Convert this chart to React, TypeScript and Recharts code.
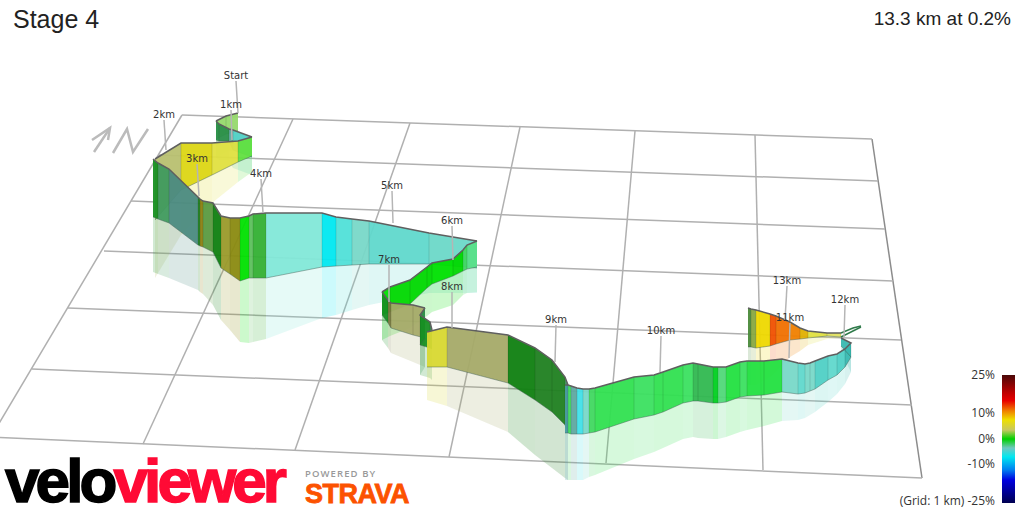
import React from 'react';
import { ComposedChart, Area, Line, XAxis, YAxis, ReferenceDot } from 'recharts';

const tones: Record<string, string> = {
  lime: '#96d96c', fern: '#2a8f4a', slate: '#5fa8a0', teal: '#4fd0c5', spring: '#62e040',
  lemon: '#e0e040', citron: '#dcd614', sage: '#b8c070', forest: '#178f22', moss: '#3f9a5e',
  petrol: '#4a8a80', pine: '#1f7f20', bronze: '#8a7f10', leaf: '#5a9a40', deep: '#0f7f10',
  olive: '#9a9a2a', khaki: '#8a8a10', neon: '#00e000', mint: '#5cc05c', grass: '#33b033',
  aqua: '#82e8d8', cyan: '#00e8f0', turq: '#50e0d8', seafoam: '#78d8c8', lagoon: '#60d8cc',
  pale: '#6cd8c8', jade: '#58e088', emerald: '#40d860', vivid: '#00d800', taupe: '#7a7a40',
  drab: '#a5aa68', mustard: '#d8d830', steel: '#4a9aa0', sky: '#40e0e8', apple: '#30e050',
  clover: '#3be060', shade: '#30b850', kelly: '#00d020', pastel: '#50d878', bright: '#22e040',
  sun: '#eed800', ember: '#f05000', flame: '#f07000', amber: '#f08000', gold: '#e0b000',
  straw: '#e0e060', blank: '#ffffff', reef: '#38b8b0', marsh: '#88a840', bottle: '#4a8a3a',
};

const loopX = [238, 226, 216];
const loopTop = [113, 116, 121];
const loopBase = [131, 134, 139];
const loopFloor = [149, 152, 158];
const loopTone = ['lime', 'lime'];

const turnX = [216, 219, 229, 233, 252];
const turnTop = [121, 124, 129, 130, 137];
const turnBase = [140, 141, 141, 150, 157];
const turnFloor = [158, 160, 160, 168, 175];
const turnTone = ['fern', 'fern', 'slate', 'teal'];

const ridgeX = [252, 238, 212, 181, 155];
const ridgeTop = [137, 141, 143, 143, 159];
const ridgeBase = [156, 162, 175, 190, 220];
const ridgeFloor = [172, 182, 203, 235, 278];
const ridgeTone = ['spring', 'lemon', 'citron', 'sage'];

const longX = [153, 158, 169, 198, 200, 203, 213, 221, 230, 240, 249, 253, 266, 322, 336, 352, 369, 429, 477];
const longTop = [159, 163, 169, 197, 199, 201, 203, 216, 218, 218, 216, 214, 213, 213, 217, 219, 221, 233, 241];
const longBase = [217, 219, 223, 245, 246, 247, 252, 268, 274, 281, 278, 278, 278, 267, 266, 265, 264, 264, 268];
const longFloor = [272, 274, 278, 290, 292, 294, 305, 320, 330, 342, 343, 342, 339, 318, 315, 310, 305, 293, 293];
const longTone = ['forest', 'moss', 'petrol', 'pine', 'bronze', 'leaf', 'deep', 'olive', 'khaki', 'neon', 'mint', 'grass', 'aqua', 'cyan', 'turq', 'seafoam', 'lagoon', 'pale'];

const bendX = [477, 467, 463, 453, 432, 427, 410, 390, 382];
const bendTop = [241, 245, 250, 259, 263, 267, 280, 287, 292];
const bendBase = [267, 269, 271, 276, 284, 288, 304, 312, 315];
const bendFloor = [292, 293, 295, 305, 312, 316, 328, 336, 340];
const bendTone = ['jade', 'emerald', 'vivid', 'neon', 'vivid', 'vivid', 'vivid', 'neon'];

const shelfX = [382, 388, 391, 413, 425];
const shelfTop = [292, 300, 303, 305, 308];
const shelfBase = [315, 323, 328, 335, 338];
const shelfFloor = [340, 348, 353, 362, 367];
const shelfTone = ['forest', 'taupe', 'drab', 'drab'];

const kinkX = [425, 420, 430, 432];
const kinkTop = [308, 315, 322, 330];
const kinkBase = [338, 345, 348, 349];
const kinkFloor = [367, 375, 378, 380];
const kinkTone = ['fern', 'forest', 'fern'];

const dropX = [427, 447, 508, 535, 552, 565, 568];
const dropTop = [332, 327, 335, 348, 360, 377, 385];
const dropBase = [367, 367, 383, 400, 412, 425, 433];
const dropFloor = [400, 406, 432, 455, 468, 478, 480];
const dropTone = ['mustard', 'drab', 'deep', 'pine', 'pine', 'moss'];

const tipX = [748, 751, 756, 770, 776, 790, 800, 808, 827, 841, 853, 861];
const tipTop = [308, 309, 310, 314, 316, 322, 328, 331, 333, 333, 328, 326];
const tipBase = [347, 347, 348, 346, 344, 340, 339, 338, 336, 337, 331, 327];
const tipFloor = [385, 385, 385, 377, 372, 357, 351, 345, 339, 338, 332, 328];
const tipTone = ['bottle', 'marsh', 'sun', 'ember', 'flame', 'amber', 'gold', 'lemon', 'straw', 'blank', 'blank'];

const runX = [565, 568, 571, 577, 583, 589, 595, 634, 654, 663, 683, 693, 698, 713, 718, 726, 740, 747, 764, 782, 798, 805, 810, 815, 828, 837, 845, 851, 841];
const runTop = [385, 385, 386, 388, 389, 389, 388, 377, 375, 372, 365, 363, 364, 367, 367, 367, 362, 361, 361, 359, 363, 364, 363, 361, 356, 354, 349, 343, 338];
const runBase = [433, 433, 434, 434, 434, 433, 432, 419, 415, 412, 403, 401, 401, 403, 403, 402, 397, 396, 395, 392, 394, 393, 391, 389, 380, 375, 367, 357, 346];
const runFloor = [480, 480, 480, 480, 480, 477, 475, 459, 452, 448, 439, 437, 438, 439, 439, 437, 432, 430, 426, 421, 420, 418, 415, 412, 402, 394, 384, 372, 352];
const runTone = ['steel', 'emerald', 'slate', 'sky', 'seafoam', 'emerald', 'apple', 'clover', 'apple', 'apple', 'clover', 'shade', 'shade', 'kelly', 'pastel', 'bright', 'clover', 'bright', 'bright', 'seafoam', 'lagoon', 'seafoam', 'seafoam', 'teal', 'lagoon', 'teal', 'reef', 'reef'];

const stretches = [
  [loopX, loopTop, loopBase, loopFloor, loopTone],
  [turnX, turnTop, turnBase, turnFloor, turnTone],
  [ridgeX, ridgeTop, ridgeBase, ridgeFloor, ridgeTone],
  [longX, longTop, longBase, longFloor, longTone],
  [bendX, bendTop, bendBase, bendFloor, bendTone],
  [shelfX, shelfTop, shelfBase, shelfFloor, shelfTone],
  [kinkX, kinkTop, kinkBase, kinkFloor, kinkTone],
  [dropX, dropTop, dropBase, dropFloor, dropTone],
  [tipX, tipTop, tipBase, tipFloor, tipTone],
  [runX, runTop, runBase, runFloor, runTone],
] as [number[], number[], number[], number[], string[]][];

// grid lines, as [x1, y1, x2, y2]
const gridRows = [
  [182, 115, 872, 139],
  [158, 155, 878, 181],
  [131, 201, 885, 229],
  [104, 251, 893, 281],
  [68, 308, 901, 340],
  [32, 369, 912, 405],
  [-9, 437, 922, 478],
];
const gridCols = [
  [182, 115, -9, 437],
  [293, 119, 143, 444],
  [410, 123, 295, 450],
  [520, 127, 449, 457],
  [635, 131, 606, 463],
  [755, 135, 763, 470],
  [872, 139, 922, 478],
];

const kmLabels = ['Start', '1km', '2km', '3km', '4km', '5km', '6km', '7km', '8km', '9km', '10km', '11km', '12km', '13km'];
const kmLabelX = [236, 231, 164, 197, 261, 392, 452, 389, 452, 556, 661, 790, 845, 787];
const kmLabelY = [75, 104, 114, 158, 173, 185, 220, 259, 286, 319, 330, 317, 299, 280];
const kmPointX = [238, 232, 166, 199, 263, 393, 453, 389, 452, 555, 660, 789, 844, 785];
const kmPointY = [113, 140, 150, 196, 213, 223, 260, 302, 328, 362, 372, 358, 337, 320];

const arrowShaftX = [94, 110];
const arrowShaftY = [152, 128];
const arrowHeadX = [92, 110, 108];
const arrowHeadY = [140, 128, 140];
const northX = [113, 127, 133, 148];
const northY = [153, 129, 152, 129];

const scaleTicks = ['25%', '10%', '0%', '-10%'];
const scaleTickY = [375, 413, 439, 464];

const pts = (xs: number[], ys: number[]) => xs.map((x, i) => ({ x, y: ys[i] }));

export default function App() {
  let z = 1;
  const items: React.ReactNode[] = [];
  const line = (data: { x: number; y: number }[], stroke: string, width: number) => {
    const id = z++;
    items.push(
      <Line key={`l${id}`} data={data} dataKey="y" type="linear" stroke={stroke} strokeWidth={width} dot={false} legendType="none" isAnimationActive={false} zIndex={id} />
    );
  };
  const band = (data: { x: number; r: number[] }[], fill: string, opacity: number) => {
    const id = z++;
    items.push(
      <Area key={`a${id}`} data={data} dataKey="r" type="linear" fill={fill} fillOpacity={opacity} stroke="none" dot={false} legendType="none" isAnimationActive={false} zIndex={id} />
    );
  };

  gridCols.forEach((g, i) => line([{ x: g[0], y: g[1] }, { x: g[2], y: g[3] }], i === 6 ? '#8c8c8c' : '#b0b0b0', 1.5));
  gridRows.forEach(g => line([{ x: g[0], y: g[1] }, { x: g[2], y: g[3] }], '#b0b0b0', 1.5));
  line(pts(arrowShaftX, arrowShaftY), '#bbbbbb', 2.5);
  line(pts(arrowHeadX, arrowHeadY), '#bbbbbb', 2.5);
  line(pts(northX, northY), '#bbbbbb', 2.5);

  stretches.forEach(([xs, top, base, floor, tone]) => {
    tone.forEach((t, i) => {
      band([{ x: xs[i], r: [base[i], floor[i]] }, { x: xs[i + 1], r: [base[i + 1], floor[i + 1]] }], tones[t], 0.2);
    });
    tone.forEach((t, i) => {
      band([{ x: xs[i], r: [top[i], base[i]] }, { x: xs[i + 1], r: [top[i + 1], base[i + 1]] }], tones[t], 0.95);
    });
    xs.slice(1, -1).forEach((x, i) => {
      line([{ x, y: top[i + 1] }, { x, y: base[i + 1] }], 'rgba(0,0,0,0.12)', 1);
    });
    if (xs === tipX) {
      // the far end of the ribbon is an empty sliver with a green outline
      line(pts(xs.slice(0, -2), base.slice(0, -2)), 'rgba(60,90,80,0.45)', 1);
      line(pts(xs.slice(0, -2), top.slice(0, -2)), '#5f5f5f', 1.5);
      line(pts(xs.slice(-3), base.slice(-3)), '#2f7a4a', 1.5);
      line(pts(xs.slice(-3), top.slice(-3)), '#2f7a4a', 1.5);
    } else {
      line(pts(xs, base), 'rgba(60,90,80,0.45)', 1);
      line(pts(xs, top), '#5f5f5f', 1.5);
    }
  });

  kmLabels.forEach((_, i) => {
    line([{ x: kmLabelX[i], y: kmLabelY[i] + 6 }, { x: kmPointX[i], y: kmPointY[i] }], '#b5b5b5', 1.5);
  });

  return (
    <div style={{ position: 'fixed', left: 0, top: 0, width: 1024, height: 512, background: '#fff', overflow: 'hidden' }}>
      <ComposedChart width={1024} height={512} margin={{ top: 0, right: 0, bottom: 0, left: 0 }}>
        <XAxis dataKey="x" type="number" domain={[0, 1024]} hide allowDataOverflow />
        <YAxis type="number" domain={[0, 512]} reversed hide width={0} allowDataOverflow />
        {items}
        {kmLabels.map((name, i) => (
          <ReferenceDot
            key={name}
            x={kmLabelX[i]}
            y={kmLabelY[i]}
            r={0}
            fill="none"
            stroke="none"
            zIndex={z + 1}
            label={{ value: name, position: 'center', fontSize: 10, fontFamily: 'DejaVu Sans', fill: '#333' }}
          />
        ))}
      </ComposedChart>

      <div style={{ position: 'absolute', left: 13, top: 4, fontFamily: 'Liberation Sans', fontSize: 25, lineHeight: '30px', color: '#222' }}>Stage 4</div>
      <div style={{ position: 'absolute', right: 13, top: 8, fontFamily: 'Liberation Sans', fontSize: 19, lineHeight: '22px', color: '#222' }}>13.3 km at 0.2%</div>

      <div style={{ position: 'absolute', left: 1002, top: 375, width: 13, height: 128, background: 'linear-gradient(to bottom, #4a0808 0%, #c00000 14%, #e80000 20%, #f08000 28%, #eee000 35%, #c8c860 43%, #00d000 50%, #70c8c0 57%, #00e8f0 64%, #0080f0 74%, #0000e0 82%, #000050 100%)' }} />
      {scaleTicks.map((t, i) => (
        <div key={t} style={{ position: 'absolute', right: 29, top: scaleTickY[i] - 9, fontFamily: 'Open Sans', fontSize: 12, lineHeight: '18px', color: '#333' }}>{t}</div>
      ))}
      <div style={{ position: 'absolute', right: 29, top: 492, fontFamily: 'Open Sans', fontSize: 12, lineHeight: '18px', color: '#333' }}>(Grid: 1 km) -25%</div>

      <div style={{ position: 'absolute', left: 5, top: 451, fontFamily: 'Liberation Sans', fontWeight: 700, fontSize: 62, letterSpacing: -3.9, lineHeight: '60px', whiteSpace: 'nowrap', WebkitTextStroke: '1.5px currentColor', color: '#ff0a35' }}>
        <span style={{ color: '#000' }}>velo</span>viewer
      </div>
      <div style={{ position: 'absolute', left: 305, top: 467, fontFamily: 'Open Sans', fontWeight: 600, fontSize: 9.5, letterSpacing: 1.1, lineHeight: '13px', color: '#999' }}>POWERED BY</div>
      <div style={{ position: 'absolute', left: 305, top: 480, fontFamily: 'Liberation Sans', fontWeight: 700, fontSize: 27, letterSpacing: -0.5, lineHeight: '28px', WebkitTextStroke: '0.8px #fc5200', color: '#fc5200' }}>STRAVA</div>
    </div>
  );
}
